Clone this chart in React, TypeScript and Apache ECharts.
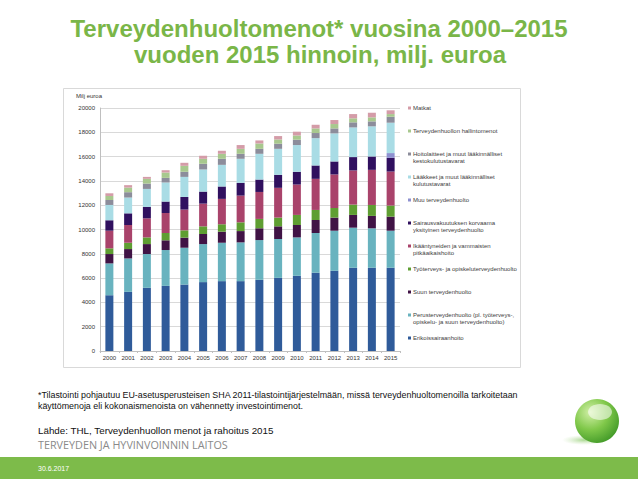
import React, { useEffect, useRef } from "react";
import * as echarts from "echarts";

const years = ["2000","2001","2002","2003","2004","2005","2006","2007","2008","2009","2010","2011","2012","2013","2014","2015"];

const erikoissairaanhoito = [4590,4870,5200,5360,5470,5670,5750,5750,5860,6020,6190,6440,6600,6850,6850,6850];
const perusterveydenhuolto = [2620,2750,2780,2950,3030,3130,3160,3190,3270,3200,3160,3270,3300,3300,3250,3050];
const suunTerveydenhuolto = [770,770,820,800,830,830,910,930,970,1040,1020,1070,1080,1050,1020,1160];
const tyoterveys = [470,520,550,600,600,630,610,720,770,720,830,830,790,850,900,910];
const ikaantyneet = [1450,1460,1570,1650,1710,1870,2090,2200,2220,2450,2500,2560,2760,2810,2890,2800];
const sairausvakuutus = [860,960,940,940,1040,990,1020,1050,1020,1070,1050,1100,1070,1100,1100,1130];
const muuTerveydenhuolto = [0,0,0,0,0,0,0,0,0,0,0,0,0,0,0,390];
const laakkeet = [1260,1300,1480,1570,1650,1820,1780,1980,2120,2140,2200,2250,2310,2440,2480,2500];
const hoitolaitteet = [410,440,440,380,420,470,500,410,410,420,440,420,410,420,410,490];
const hallintomenot = [330,380,390,440,490,410,410,410,440,350,350,380,360,330,330,220];
const matkat = [220,200,160,190,250,250,250,310,250,280,310,300,330,350,380,310];

const yTicks = { min: 0, max: 20000, interval: 2000 };

const seriesDefs = [
  { name: "Erikoissairaanhoito", legend: "Erikoissairaanhoito", data: erikoissairaanhoito, color: "#2f5b9a" },
  { name: "Perusterveydenhuolto", legend: "Perusterveydenhuolto (pl. työterveys-,\nopiskelu- ja suun terveydenhuolto)", data: perusterveydenhuolto, color: "#69b3bf" },
  { name: "Suun terveydenhuolto", legend: "Suun terveydenhuolto", data: suunTerveydenhuolto, color: "#401345" },
  { name: "Työterveys", legend: "Työterveys- ja opiskeluterveydenhuolto", data: tyoterveys, color: "#5f9e32" },
  { name: "Ikääntyneet", legend: "Ikääntyneiden ja vammaisten\npitkäaikaishoito", data: ikaantyneet, color: "#a9436b" },
  { name: "Sairausvakuutus", legend: "Sairausvakuutuksen korvaama\nyksityinen terveydenhuolto", data: sairausvakuutus, color: "#30105f" },
  { name: "Muu terveydenhuolto", legend: "Muu terveydenhuolto", data: muuTerveydenhuolto, color: "#8e91d0" },
  { name: "Lääkkeet", legend: "Lääkkeet ja muut lääkinnälliset\nkulutustavarat", data: laakkeet, color: "#a9dce5" },
  { name: "Hoitolaitteet", legend: "Hoitolaitteet ja muut lääkinnälliset\nkestokulutustavarat", data: hoitolaitteet, color: "#8c8d9b" },
  { name: "Hallintomenot", legend: "Terveydenhuollon hallintomenot", data: hallintomenot, color: "#a8c88e" },
  { name: "Matkat", legend: "Matkat", data: matkat, color: "#d49ca8" },
];

const FONT = "'Liberation Sans', Arial, sans-serif";
const GREEN = "#7ab648";

export default function App() {
  const ref = useRef<HTMLDivElement>(null);
  useEffect(() => {
    if (!ref.current) return;
    const chart = echarts.init(ref.current, undefined, { renderer: "svg" });

    const legendItems: any[] = [];
    const rev = [...seriesDefs].reverse();
    rev.forEach((s, i) => {
      const y = 108 + 23 * i;
      legendItems.push({
        type: "rect",
        shape: { x: 408, y: y - 1.5, width: 3, height: 3 },
        style: { fill: s.color },
      });
      legendItems.push({
        type: "text",
        x: 413,
        y: y - 3.5,
        style: { text: s.legend, font: `6px ${FONT}`, fill: "#404040", lineHeight: 7, textVerticalAlign: "top" },
      });
    });

    chart.setOption({
      animation: false,
      textStyle: { fontFamily: FONT },
      grid: { left: 100, right: 238, top: 108, bottom: 128, containLabel: false },
      xAxis: {
        type: "category",
        data: years,
        axisLine: { show: true, lineStyle: { color: "#bfbfbf", width: 1 } },
        axisTick: { show: true, length: 2, lineStyle: { color: "#bfbfbf" } },
        axisLabel: { fontSize: 6, color: "#333", margin: 4, fontFamily: FONT },
      },
      yAxis: {
        type: "value",
        min: yTicks.min,
        max: yTicks.max,
        interval: yTicks.interval,
        axisLine: { show: true, lineStyle: { color: "#bfbfbf", width: 1 } },
        axisTick: { show: false },
        splitLine: { lineStyle: { color: "#d9d9d9", width: 1 } },
        axisLabel: { fontSize: 6, color: "#333", margin: 5, fontFamily: FONT, formatter: (v: number) => String(v) },
      },
      series: seriesDefs.map((s) => ({
        name: s.name,
        type: "bar",
        stack: "total",
        barWidth: 8,
        data: s.data,
        itemStyle: { color: s.color },
      })),
      graphic: [
        {
          type: "text",
          x: 319,
          y: 28,
          style: { text: "Terveydenhuoltomenot* vuosina 2000–2015", font: `bold 24px ${FONT}`, fill: GREEN, textAlign: "center", textVerticalAlign: "middle" },
        },
        {
          type: "text",
          x: 320,
          y: 54,
          style: { text: "vuoden 2015 hinnoin, milj. euroa", font: `bold 24px ${FONT}`, fill: GREEN, textAlign: "center", textVerticalAlign: "middle" },
        },
        {
          type: "rect",
          z: -10,
          shape: { x: 63.5, y: 88.5, width: 457, height: 279 },
          style: { fill: "#fff", stroke: "#d9d9d9", lineWidth: 1 },
        },
        {
          type: "text",
          x: 76,
          y: 96,
          style: { text: "Milj euroa", font: `6px ${FONT}`, fill: "#333", textVerticalAlign: "middle" },
        },
        ...legendItems,
        {
          type: "text",
          x: 38,
          y: 395,
          style: { text: "*Tilastointi pohjautuu EU-asetusperusteisen SHA 2011-tilastointijärjestelmään, missä terveydenhuoltomenoilla tarkoitetaan", font: `8.9px ${FONT}`, fill: "#111", textVerticalAlign: "middle" },
        },
        {
          type: "text",
          x: 38,
          y: 406,
          style: { text: "käyttömenoja eli kokonaismenoista on vähennetty investointimenot.", font: `8.9px ${FONT}`, fill: "#111", textVerticalAlign: "middle" },
        },
        {
          type: "text",
          x: 38,
          y: 430,
          style: { text: "Lähde: THL, Terveydenhuollon menot ja rahoitus 2015", font: `9.8px ${FONT}`, fill: "#111", textVerticalAlign: "middle" },
        },
        {
          type: "text",
          x: 38,
          y: 444,
          style: { text: "TERVEYDEN JA HYVINVOINNIN LAITOS", font: `10.8px 'Open Sans', ${FONT}`, fill: "#8a8a8a", textVerticalAlign: "middle" },
        },
        {
          type: "rect",
          shape: { x: 0, y: 457, width: 638, height: 22 },
          style: { fill: "#7dbb4a" },
        },
        {
          type: "text",
          x: 38,
          y: 468,
          style: { text: "30.6.2017", font: `7px ${FONT}`, fill: "#ffffff", textVerticalAlign: "middle" },
        },
        {
          type: "ellipse",
          shape: { cx: 584, cy: 440, rx: 22, ry: 5 },
          style: {
            fill: new echarts.graphic.RadialGradient(0.5, 0.5, 0.5, [
              { offset: 0, color: "rgba(110,190,70,0.6)" },
              { offset: 1, color: "rgba(180,220,150,0)" },
            ]),
          },
        },
        {
          type: "circle",
          shape: { cx: 597, cy: 421, r: 22 },
          style: {
            fill: new echarts.graphic.RadialGradient(0.35, 0.3, 0.8, [
              { offset: 0, color: "#d2f0a8" },
              { offset: 0.5, color: "#80c84a" },
              { offset: 1, color: "#3a9424" },
            ]),
          },
        },
        {
          type: "ellipse",
          shape: { cx: 600, cy: 412, rx: 12, ry: 8 },
          style: { fill: "rgba(255,255,255,0.55)" },
        },
      ],
    });
    return () => chart.dispose();
  }, []);
  return <div ref={ref} style={{ position: "fixed", left: 0, top: 0, width: 638, height: 479, background: "#fff" }} />;
}
